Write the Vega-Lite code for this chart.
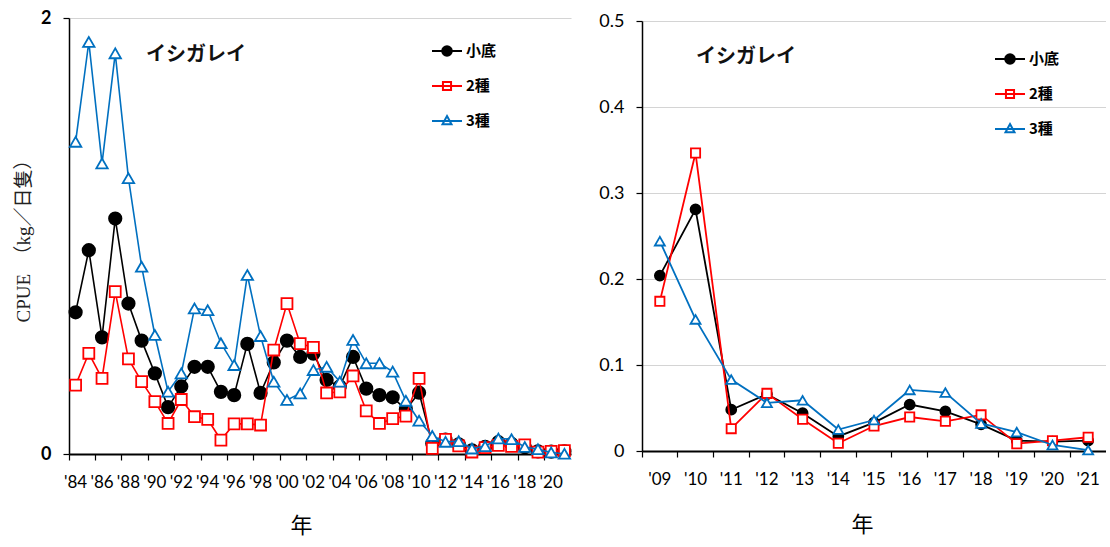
{
  "$schema": "https://vega.github.io/schema/vega-lite/v6.json",
  "padding": {"left": 14, "top": 9, "right": 0, "bottom": 20},
  "background": "white",
  "config": {
    "font": "Lato",
    "view": {"stroke": null},
    "axis": {"domainColor": "black", "tickColor": "black", "labelColor": "black", "titleColor": "black", "gridColor": "#d4d4d4", "gridWidth": 1.2}
  },
  "datasets": {
    "cpue": [
      {"year": "1984", "s": "小底", "v": 0.65}, {"year": "1985", "s": "小底", "v": 0.935}, {"year": "1986", "s": "小底", "v": 0.535}, {"year": "1987", "s": "小底", "v": 1.08}, {"year": "1988", "s": "小底", "v": 0.69}, {"year": "1989", "s": "小底", "v": 0.52}, {"year": "1990", "s": "小底", "v": 0.37}, {"year": "1991", "s": "小底", "v": 0.215}, {"year": "1992", "s": "小底", "v": 0.31}, {"year": "1993", "s": "小底", "v": 0.4}, {"year": "1994", "s": "小底", "v": 0.4}, {"year": "1995", "s": "小底", "v": 0.285}, {"year": "1996", "s": "小底", "v": 0.27}, {"year": "1997", "s": "小底", "v": 0.505}, {"year": "1998", "s": "小底", "v": 0.28}, {"year": "1999", "s": "小底", "v": 0.42}, {"year": "2000", "s": "小底", "v": 0.52}, {"year": "2001", "s": "小底", "v": 0.445}, {"year": "2002", "s": "小底", "v": 0.46}, {"year": "2003", "s": "小底", "v": 0.34}, {"year": "2004", "s": "小底", "v": 0.31}, {"year": "2005", "s": "小底", "v": 0.445}, {"year": "2006", "s": "小底", "v": 0.3}, {"year": "2007", "s": "小底", "v": 0.27}, {"year": "2008", "s": "小底", "v": 0.26}, {"year": "2009", "s": "小底", "v": 0.204}, {"year": "2010", "s": "小底", "v": 0.281}, {"year": "2011", "s": "小底", "v": 0.048}, {"year": "2012", "s": "小底", "v": 0.066}, {"year": "2013", "s": "小底", "v": 0.044}, {"year": "2014", "s": "小底", "v": 0.017}, {"year": "2015", "s": "小底", "v": 0.033}, {"year": "2016", "s": "小底", "v": 0.054}, {"year": "2017", "s": "小底", "v": 0.046}, {"year": "2018", "s": "小底", "v": 0.031}, {"year": "2019", "s": "小底", "v": 0.012}, {"year": "2020", "s": "小底", "v": 0.011}, {"year": "2021", "s": "小底", "v": 0.012},
      {"year": "1984", "s": "2種", "v": 0.316}, {"year": "1985", "s": "2種", "v": 0.462}, {"year": "1986", "s": "2種", "v": 0.347}, {"year": "1987", "s": "2種", "v": 0.745}, {"year": "1988", "s": "2種", "v": 0.436}, {"year": "1989", "s": "2種", "v": 0.332}, {"year": "1990", "s": "2種", "v": 0.24}, {"year": "1991", "s": "2種", "v": 0.14}, {"year": "1992", "s": "2種", "v": 0.25}, {"year": "1993", "s": "2種", "v": 0.171}, {"year": "1994", "s": "2種", "v": 0.159}, {"year": "1995", "s": "2種", "v": 0.064}, {"year": "1996", "s": "2種", "v": 0.138}, {"year": "1997", "s": "2種", "v": 0.138}, {"year": "1998", "s": "2種", "v": 0.133}, {"year": "1999", "s": "2種", "v": 0.477}, {"year": "2000", "s": "2種", "v": 0.69}, {"year": "2001", "s": "2種", "v": 0.506}, {"year": "2002", "s": "2種", "v": 0.489}, {"year": "2003", "s": "2種", "v": 0.28}, {"year": "2004", "s": "2種", "v": 0.285}, {"year": "2005", "s": "2種", "v": 0.358}, {"year": "2006", "s": "2種", "v": 0.198}, {"year": "2007", "s": "2種", "v": 0.14}, {"year": "2008", "s": "2種", "v": 0.162}, {"year": "2009", "s": "2種", "v": 0.174}, {"year": "2010", "s": "2種", "v": 0.3465}, {"year": "2011", "s": "2種", "v": 0.026}, {"year": "2012", "s": "2種", "v": 0.067}, {"year": "2013", "s": "2種", "v": 0.037}, {"year": "2014", "s": "2種", "v": 0.009}, {"year": "2015", "s": "2種", "v": 0.029}, {"year": "2016", "s": "2種", "v": 0.0395}, {"year": "2017", "s": "2種", "v": 0.0345}, {"year": "2018", "s": "2種", "v": 0.042}, {"year": "2019", "s": "2種", "v": 0.0085}, {"year": "2020", "s": "2種", "v": 0.012}, {"year": "2021", "s": "2種", "v": 0.016},
      {"year": "1984", "s": "3種", "v": 1.432}, {"year": "1985", "s": "3種", "v": 1.89}, {"year": "1986", "s": "3種", "v": 1.333}, {"year": "1987", "s": "3種", "v": 1.838}, {"year": "1988", "s": "3種", "v": 1.265}, {"year": "1989", "s": "3種", "v": 0.859}, {"year": "1990", "s": "3種", "v": 0.546}, {"year": "1991", "s": "3種", "v": 0.286}, {"year": "1992", "s": "3種", "v": 0.37}, {"year": "1993", "s": "3種", "v": 0.668}, {"year": "1994", "s": "3種", "v": 0.66}, {"year": "1995", "s": "3種", "v": 0.508}, {"year": "1996", "s": "3種", "v": 0.408}, {"year": "1997", "s": "3種", "v": 0.821}, {"year": "1998", "s": "3種", "v": 0.541}, {"year": "1999", "s": "3種", "v": 0.332}, {"year": "2000", "s": "3種", "v": 0.248}, {"year": "2001", "s": "3種", "v": 0.278}, {"year": "2002", "s": "3種", "v": 0.385}, {"year": "2003", "s": "3種", "v": 0.4}, {"year": "2004", "s": "3種", "v": 0.332}, {"year": "2005", "s": "3種", "v": 0.523}, {"year": "2006", "s": "3種", "v": 0.416}, {"year": "2007", "s": "3種", "v": 0.416}, {"year": "2008", "s": "3種", "v": 0.378}, {"year": "2009", "s": "3種", "v": 0.244}, {"year": "2010", "s": "3種", "v": 0.153}, {"year": "2011", "s": "3種", "v": 0.083}, {"year": "2012", "s": "3種", "v": 0.056}, {"year": "2013", "s": "3種", "v": 0.059}, {"year": "2014", "s": "3種", "v": 0.025}, {"year": "2015", "s": "3種", "v": 0.036}, {"year": "2016", "s": "3種", "v": 0.071}, {"year": "2017", "s": "3種", "v": 0.068}, {"year": "2018", "s": "3種", "v": 0.032}, {"year": "2019", "s": "3種", "v": 0.022}, {"year": "2020", "s": "3種", "v": 0.007}, {"year": "2021", "s": "3種", "v": 0.001}
    ]
  },
  "bounds": "flush",
  "spacing": 71,
  "center": true,
  "resolve": {
    "scale": {"stroke": "independent", "fill": "independent", "shape": "independent"},
    "legend": {"stroke": "independent", "fill": "independent", "shape": "independent"}
  },
  "hconcat": [
    {
      "width": 502,
      "height": 436,
      "title": {"text": "イシガレイ", "frame": "group", "anchor": "start", "dx": 77, "offset": -56, "font": "Noto Sans CJK JP", "fontSize": 20, "fontWeight": "bold", "color": "#111"},
      "data": {"name": "cpue"},
      "encoding": {
        "x": {
          "field": "year", "type": "ordinal",
          "scale": {"type": "band", "paddingInner": 0, "paddingOuter": 0},
          "axis": {
            "title": "年",
            "values": ["1984","1986","1988","1990","1992","1994","1996","1998","2000","2002","2004","2006","2008","2010","2012","2014","2016","2018","2020"],
            "bandPosition": 0, "labelAngle": 0,
            "labelExpr": "\"'\" + substring(datum.value, 2)",
            "labelFontSize": 17, "labelPadding": 14, "tickSize": 6, "tickWidth": 1.2, "domainWidth": 2, "grid": false,
            "titleFont": "Noto Sans CJK JP", "titleFontSize": 22, "titleFontWeight": "normal",
            "titleX": 232, "titleY": 71, "titleBaseline": "middle", "titleAlign": "center"
          }
        },
        "y": {
          "field": "v", "type": "quantitative",
          "scale": {"domain": [0, 2]},
          "axis": {
            "title": "CPUE　（kg／日隻）",
            "values": [0, 1, 2], "format": "d", "grid": true,
            "labelFontSize": 18, "labelFontWeight": "bold", "labelPadding": 12, "tickSize": 6, "tickWidth": 1.2, "domainWidth": 1.5,
            "titleFont": "Liberation Serif, Noto Sans CJK JP", "titleFontSize": 19, "titleFontWeight": "normal",
            "titleX": -46, "titleBaseline": "middle", "titleColor": "#222"
          }
        }
      },
      "layer": [
        {
          "transform": [{"filter": {"field": "s", "equal": "小底"}}],
          "layer": [
            {"mark": {"type": "line", "stroke": "black", "strokeWidth": 1.6}, "encoding": {}},
            {"mark": {"type": "point", "shape": "circle", "filled": true, "fill": "black", "stroke": "black", "opacity": 1, "size": 150}, "encoding": {}}
          ]
        },
        {
          "transform": [{"filter": {"field": "s", "equal": "2種"}}],
          "layer": [
            {"mark": {"type": "line", "stroke": "#ff0000", "strokeWidth": 1.6}, "encoding": {}},
            {"mark": {"type": "point", "shape": "square", "filled": true, "fill": "white", "stroke": "#ff0000", "strokeWidth": 1.8, "opacity": 1, "size": 120}, "encoding": {}}
          ]
        },
        {
          "transform": [{"filter": {"field": "s", "equal": "3種"}}],
          "layer": [
            {"mark": {"type": "line", "stroke": "#0070c0", "strokeWidth": 1.6}, "encoding": {}},
            {"mark": {"type": "point", "shape": "triangle-up", "filled": true, "fill": "white", "stroke": "#0070c0", "strokeWidth": 1.8, "opacity": 1, "size": 130}, "encoding": {}}
          ]
        },
        {
          "transform": [{"filter": "false"}],
          "mark": {"type": "point", "opacity": 1, "size": 900, "strokeWidth": 2, "filled": true},
          "encoding": {
            "shape": {
              "field": "s", "type": "nominal",
              "scale": {"domain": ["小底", "2種", "3種"], "range": ["M-1,0H1M0.32,0A0.32,0.32,0,1,1,-0.32,0A0.32,0.32,0,1,1,0.32,0Z", "M-1,0H1M-0.27,-0.27H0.27V0.27H-0.27Z", "M-1,0H1M0,-0.33L0.3,0.22H-0.3Z"]},
              "legend": {
                "title": null, "orient": "none", "legendX": 362, "legendY": 17, "padding": 0,
                "symbolSize": 900, "symbolStrokeWidth": 2, "symbolOpacity": 1, "rowPadding": 10, "labelOffset": 3,
                "labelFont": "Noto Sans CJK JP", "labelFontSize": 15, "labelFontWeight": "bold", "labelColor": "black"
              }
            },
            "stroke": {"field": "s", "type": "nominal", "scale": {"domain": ["小底", "2種", "3種"], "range": ["black", "#ff0000", "#0070c0"]}},
            "fill": {"field": "s", "type": "nominal", "scale": {"domain": ["小底", "2種", "3種"], "range": ["black", "white", "white"]}}
          }
        }
      ]
    },
    {
      "width": 464,
      "height": 430,
      "title": {"text": "イシガレイ", "frame": "group", "anchor": "start", "dx": 54, "offset": -55, "font": "Noto Sans CJK JP", "fontSize": 20, "fontWeight": "bold", "color": "#111"},
      "data": {"name": "cpue"},
      "transform": [{"filter": "toNumber(datum.year) >= 2009"}],
      "encoding": {
        "x": {
          "field": "year", "type": "ordinal",
          "scale": {"type": "band", "paddingInner": 0, "paddingOuter": 0},
          "axis": {
            "title": "年",
            "bandPosition": 0, "labelAngle": 0,
            "labelExpr": "\"'\" + substring(datum.value, 2)",
            "labelFontSize": 17, "labelPadding": 14, "tickSize": 6, "tickWidth": 1.2, "domainWidth": 2, "grid": false,
            "titleFont": "Noto Sans CJK JP", "titleFontSize": 22, "titleFontWeight": "normal",
            "titleX": 220, "titleY": 73, "titleBaseline": "middle", "titleAlign": "center"
          }
        },
        "y": {
          "field": "v", "type": "quantitative",
          "scale": {"domain": [0, 0.5]},
          "axis": {
            "title": null,
            "values": [0, 0.1, 0.2, 0.3, 0.4, 0.5], "format": "~g", "grid": true,
            "labelFontSize": 18, "labelPadding": 12, "tickSize": 6, "tickWidth": 1.2, "domainWidth": 1.5
          }
        }
      },
      "layer": [
        {
          "transform": [{"filter": {"field": "s", "equal": "小底"}}],
          "layer": [
            {"mark": {"type": "line", "stroke": "black", "strokeWidth": 1.8}, "encoding": {}},
            {"mark": {"type": "point", "shape": "circle", "filled": true, "fill": "black", "stroke": "black", "opacity": 1, "size": 95}, "encoding": {}}
          ]
        },
        {
          "transform": [{"filter": {"field": "s", "equal": "2種"}}],
          "layer": [
            {"mark": {"type": "line", "stroke": "#ff0000", "strokeWidth": 1.8}, "encoding": {}},
            {"mark": {"type": "point", "shape": "square", "filled": true, "fill": "white", "stroke": "#ff0000", "strokeWidth": 1.8, "opacity": 1, "size": 85}, "encoding": {}}
          ]
        },
        {
          "transform": [{"filter": {"field": "s", "equal": "3種"}}],
          "layer": [
            {"mark": {"type": "line", "stroke": "#0070c0", "strokeWidth": 1.8}, "encoding": {}},
            {"mark": {"type": "point", "shape": "triangle-up", "filled": true, "fill": "white", "stroke": "#0070c0", "strokeWidth": 1.8, "opacity": 1, "size": 100}, "encoding": {}}
          ]
        },
        {
          "transform": [{"filter": "false"}],
          "mark": {"type": "point", "opacity": 1, "size": 900, "strokeWidth": 2, "filled": true},
          "encoding": {
            "shape": {
              "field": "s", "type": "nominal",
              "scale": {"domain": ["小底", "2種", "3種"], "range": ["M-1,0H1M0.32,0A0.32,0.32,0,1,1,-0.32,0A0.32,0.32,0,1,1,0.32,0Z", "M-1,0H1M-0.27,-0.27H0.27V0.27H-0.27Z", "M-1,0H1M0,-0.33L0.3,0.22H-0.3Z"]},
              "legend": {
                "title": null, "orient": "none", "legendX": 352, "legendY": 22, "padding": 0,
                "symbolSize": 900, "symbolStrokeWidth": 2, "symbolOpacity": 1, "rowPadding": 10, "labelOffset": 3,
                "labelFont": "Noto Sans CJK JP", "labelFontSize": 15, "labelFontWeight": "bold", "labelColor": "black"
              }
            },
            "stroke": {"field": "s", "type": "nominal", "scale": {"domain": ["小底", "2種", "3種"], "range": ["black", "#ff0000", "#0070c0"]}},
            "fill": {"field": "s", "type": "nominal", "scale": {"domain": ["小底", "2種", "3種"], "range": ["black", "white", "white"]}}
          }
        }
      ]
    }
  ]
}
